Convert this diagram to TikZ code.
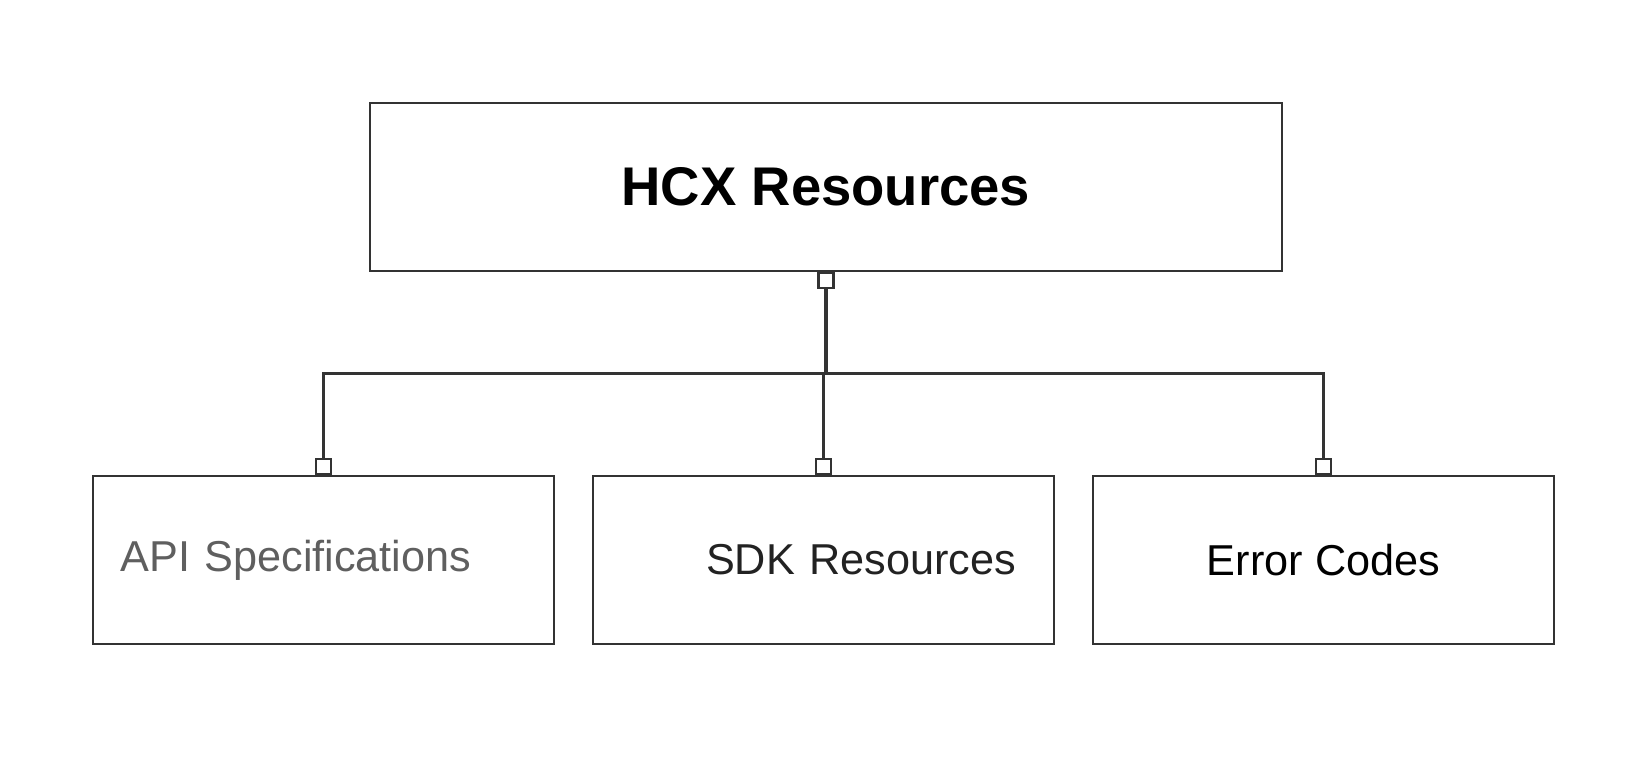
\documentclass[tikz,border=0pt]{standalone}
\usepackage{fontspec}
\setmainfont{Liberation Sans}
\usetikzlibrary{positioning, calc}
\definecolor{linegray}{HTML}{333333}
\definecolor{textgray}{HTML}{5F5F5F}
\definecolor{textdark}{HTML}{222222}

\begin{document}
\begin{tikzpicture}
    [
        node distance=37.3mm and 50mm, on grid,
        top_node/.style={rectangle, draw=linegray, line width=0.6pt, minimum width=91.2mm, minimum height=16.8mm, font=\fontsize{15.5}{18}\selectfont\bfseries},
        leaf_node/.style={rectangle, draw=linegray, line width=0.6pt, minimum width=46.1mm, minimum height=16.8mm, font=\fontsize{12.3}{15}\selectfont},
        port_node/.style={rectangle, draw=linegray, line width=0.6pt, fill=white, minimum size=1.5mm, inner sep=0pt},
    ]
        \useasboundingbox (-82.6mm,-58.8mm) rectangle (82mm,18.7mm);
        \node[top_node] (hcx) {HCX Resources} ;
        \node[leaf_node, text=textdark, text width=38.5mm, inner xsep=3.8mm, align=right, xshift=-0.25mm] (sdk) [below = of hcx] {SDK Resources} ;
        \node[leaf_node, text=textgray, text width=40.6mm, inner xsep=2.75mm, align=left] (api) [left = of sdk] {API Specifications} ;
        \node[leaf_node, text=black] (err) [right = of sdk] {Error Codes} ;
        \node[port_node, anchor=north] (p0) at (hcx.south) {} ;
        \node[port_node, anchor=south] (p1) at (api.north) {} ;
        \node[port_node, anchor=south] (p2) at (sdk.north) {} ;
        \node[port_node, anchor=south] (p3) at (err.north) {} ;
        \coordinate (bus) at ($(hcx.south)!0.5!(sdk.north)$) ;
        \draw[line width=0.9pt, color=linegray] (p0) -- (p0 |- bus) ;
        \draw[line width=0.6pt, color=linegray] (p1) |- (bus) -| (p3) ;
        \draw[line width=0.6pt, color=linegray] (p2 |- bus) -- (p2) ;
    \end{tikzpicture}
\end{document}
